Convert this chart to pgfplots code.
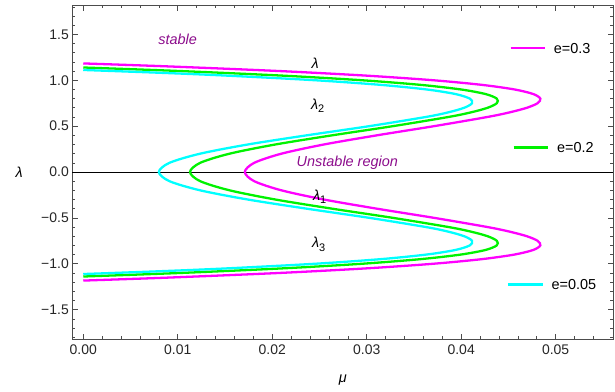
\documentclass[border=0pt]{standalone}
\usepackage{pgfplots}
\pgfplotsset{compat=1.18}
\usepackage{fontspec}
\setmainfont{Liberation Sans}
\definecolor{mag}{rgb}{1,0,1}
\definecolor{grn}{rgb}{0,0.95,0}
\definecolor{cyn}{rgb}{0,1,1}
\definecolor{purp}{rgb}{0.55,0.05,0.55}
\definecolor{framec}{gray}{0.3}
\begin{document}
\begin{tikzpicture}
\path[use as bounding box] (0,0) rectangle (615bp,-392bp);
\begin{axis}[
  at={(72.3bp,-339bp)}, anchor=south west,
  scale only axis, width=541bp, height=334bp,
  xmin=-0.00116, xmax=0.0561, ymin=-1.82, ymax=1.82,
  clip=false,
  scaled x ticks=false, scaled y ticks=false,
  tick pos=both, tick align=inside,
  xtick={0,0.01,0.02,0.03,0.04,0.05},
  xticklabels={0.00,0.01,0.02,0.03,0.04,0.05},
  ytick={-1.5,-1,-0.5,0,0.5,1,1.5},
  yticklabels={−1.5,−1.0,−0.5,0.0,0.5,1.0,1.5},
  minor xtick={0.002,0.004,0.006,0.008,0.012,0.014,0.016,0.018,0.022,0.024,0.026,0.028,0.032,0.034,0.036,0.038,0.042,0.044,0.046,0.048,0.052,0.054},
  minor ytick={-1.8,-1.7,-1.6,-1.4,-1.3,-1.2,-1.1,-0.9,-0.8,-0.7,-0.6,-0.4,-0.3,-0.2,-0.1,0.1,0.2,0.3,0.4,0.6,0.7,0.8,0.9,1.1,1.2,1.3,1.4,1.6,1.7,1.8},
  major tick length=5.5bp, minor tick length=3.2bp,
  every tick/.style={framec, line width=0.6pt},
  axis line style={framec, line width=0.8pt},
  ticklabel style={font=\fontsize{14}{16}\selectfont, text=black!85},
  xticklabel style={yshift=-2bp},
]
\addplot[black, line width=0.7pt] coordinates {(-0.00116,0) (0.0561,0)};

\addplot[mag, line width=2.3pt, smooth] coordinates {
(0,-1.1833) (0.009197,-1.15) (0.020808,-1.1) (0.030003,-1.05) (0.03704,-1.0) (0.042167,-0.95) (0.045619,-0.9) (0.047619,-0.85) (0.048377,-0.8) (0.048092,-0.75) (0.046953,-0.7) (0.045132,-0.65) (0.042793,-0.6) (0.037152,-0.5) (0.031091,-0.4) (0.025476,-0.3) (0.020983,-0.2) (0.018095,-0.1) (0.0171,0)
(0.018095,0.1) (0.020983,0.2) (0.025476,0.3) (0.031091,0.4) (0.037152,0.5) (0.042793,0.6) (0.045132,0.65) (0.046953,0.7) (0.048092,0.75) (0.048377,0.8) (0.047619,0.85) (0.045619,0.9) (0.042167,0.95) (0.03704,1.0) (0.030003,1.05) (0.020808,1.1) (0.009197,1.15) (0,1.1833)};

\addplot[grn, line width=2.3pt, smooth] coordinates {
(0,-1.139) (0.010345,-1.1) (0.02114,-1.05) (0.02949,-1.0) (0.035669,-0.95) (0.039944,-0.9) (0.042563,-0.85) (0.043765,-0.8) (0.043774,-0.75) (0.042799,-0.7) (0.041038,-0.65) (0.038672,-0.6) (0.032794,-0.5) (0.026357,-0.4) (0.020339,-0.3) (0.015498,-0.2) (0.012377,-0.1) (0.0113,0)
(0.012377,0.1) (0.015498,0.2) (0.020339,0.3) (0.026357,0.4) (0.032794,0.5) (0.038672,0.6) (0.041038,0.65) (0.042799,0.7) (0.043774,0.75) (0.043765,0.8) (0.042563,0.85) (0.039944,0.9) (0.035669,0.95) (0.02949,1.0) (0.02114,1.05) (0.010345,1.1) (0,1.139)};

\addplot[cyn, line width=2.3pt, smooth] coordinates {
(0,-1.112) (0.008468,-1.08) (0.01527,-1.05) (0.02453,-1.0) (0.031448,-0.95) (0.036307,-0.9) (0.039377,-0.85) (0.040911,-0.8) (0.041151,-0.75) (0.040322,-0.7) (0.038634,-0.65) (0.036284,-0.6) (0.030307,-0.5) (0.023673,-0.4) (0.017426,-0.3) (0.012383,-0.2) (0.009125,-0.1) (0.008,0)
(0.009125,0.1) (0.012383,0.2) (0.017426,0.3) (0.023673,0.4) (0.030307,0.5) (0.036284,0.6) (0.038634,0.65) (0.040322,0.7) (0.041151,0.75) (0.040911,0.8) (0.039377,0.85) (0.036307,0.9) (0.031448,0.95) (0.02453,1.0) (0.01527,1.05) (0.008468,1.08) (0,1.112)};

% legend entries
\draw[mag, line width=2.3pt] (axis cs:0.04524,1.348) -- (axis cs:0.04884,1.348);
\node[anchor=west, inner sep=0pt, font=\fontsize{14.5}{16}\selectfont] at (axis cs:0.04979,1.348) {e=0.3};
\draw[grn, line width=2.3pt] (axis cs:0.04556,0.2666) -- (axis cs:0.04916,0.2666);
\node[anchor=west, inner sep=0pt, font=\fontsize{14.5}{16}\selectfont] at (axis cs:0.05014,0.2666) {e=0.2};
\draw[cyn, line width=2.3pt] (axis cs:0.04493,-1.2274) -- (axis cs:0.04863,-1.2274);
\node[anchor=west, inner sep=0pt, font=\fontsize{14.5}{16}\selectfont] at (axis cs:0.04955,-1.2274) {e=0.05};

% annotations
\node[purp, font=\fontsize{14.5}{16}\selectfont\itshape] at (axis cs:0.00999,1.449) {stable};
\node[purp, font=\fontsize{14.5}{16}\selectfont\itshape] at (axis cs:0.02795,0.103) {Unstable region};
\node[anchor=west, inner sep=0pt, font=\fontsize{14.5}{16}\selectfont] at (axis cs:0.02416,1.185) {\textit{λ}};
\node[anchor=west, inner sep=0pt, font=\fontsize{14.5}{16}\selectfont] at (axis cs:0.02409,0.72) {\textit{λ}\raisebox{-0.45ex}{\fontsize{11}{12}\selectfont 2}};
\node[anchor=west, inner sep=0pt, font=\fontsize{14.5}{16}\selectfont] at (axis cs:0.0243,-0.27) {\textit{λ}\raisebox{-0.45ex}{\fontsize{11}{12}\selectfont 1}};
\node[anchor=west, inner sep=0pt, font=\fontsize{14.5}{16}\selectfont] at (axis cs:0.0242,-0.79) {\textit{λ}\raisebox{-0.45ex}{\fontsize{11}{12}\selectfont 3}};

% axis labels
\node[font=\fontsize{14.5}{16}\selectfont] at (axis description cs:-0.098,0.5) {\textit{λ}};
\node[font=\fontsize{14.5}{16}\selectfont] at (axis description cs:0.5,-0.1228) {\textit{μ}};
\end{axis}
\end{tikzpicture}
\end{document}
